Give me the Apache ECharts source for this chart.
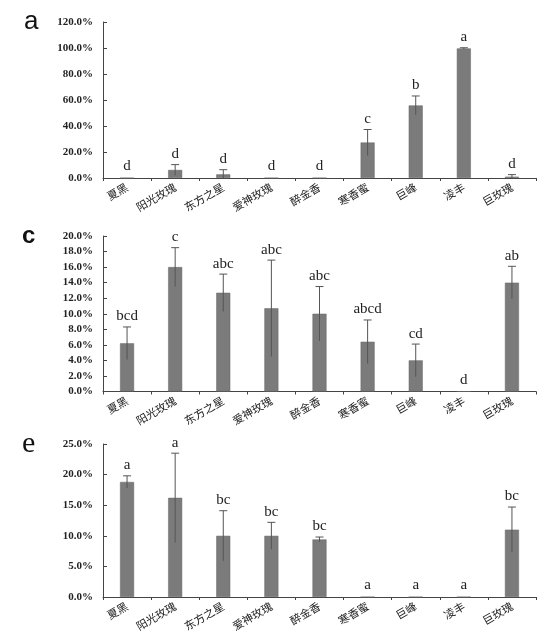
<!DOCTYPE html>
<html>
<head>
<meta charset="utf-8">
<script src="https://cdn.jsdelivr.net/npm/echarts@6/dist/echarts.min.js"></script>
<style>
html,body{margin:0;padding:0;background:#fff;}
#chart{width:550px;height:635px;}
</style>
</head>
<body>
<div id="chart"></div>
<script>
var categories = ['夏黑','阳光玫瑰','东方之星','爱神玫瑰','醉金香','寒香蜜','巨峰','凌丰','巨玫瑰'];

var aMean = [0, 6.2, 2.8, 0, 0, 27.3, 55.8, 99.7, 1.0];
var aErr  = [0, 4.1, 3.6, 0, 0, 10.0, 7.3, 0.5, 1.6];
var aSig  = ['d','d','d','d','d','c','b','a','d'];

var cMean = [6.2, 16.0, 12.7, 10.7, 10.0, 6.4, 4.0, 0, 14.0];
var cErr  = [2.1, 2.5, 2.4, 6.2, 3.5, 2.8, 2.1, 0, 2.1];
var cSig  = ['bcd','c','abc','abc','abc','abcd','cd','d','ab'];

var eMean = [18.8, 16.2, 10.0, 10.0, 9.4, 0, 0, 0, 11.0];
var eErr  = [1.0, 7.3, 4.1, 2.2, 0.4, 0, 0, 0, 3.7];
var eSig  = ['a','a','bc','bc','bc','a','a','a','bc'];

var panelLabels = ['a','c','e'];
var yMax = [120, 20, 25];
var yInterval = [20, 2, 5];

var panels = [
  {mean: aMean, err: aErr, sig: aSig},
  {mean: cMean, err: cErr, sig: cSig},
  {mean: eMean, err: eErr, sig: eSig}
];

var gridTops = [22, 236, 444];
var gridHeights = [156, 155.5, 153];

var chart = echarts.init(document.getElementById('chart'));

var grids = [], xAxes = [], yAxes = [], series = [];
panels.forEach(function (p, k) {
  grids.push({left: 103, right: 14, top: gridTops[k], height: gridHeights[k], containLabel: false});
  xAxes.push({
    type: 'category', gridIndex: k, data: categories,
    axisLine: {lineStyle: {color: '#444', width: 1}},
    axisTick: {show: true, inside: false, length: 3, alignWithLabel: false, lineStyle: {color: '#444'}},
    axisLabel: {rotate: 30, margin: 8, fontSize: 11, color: '#222', fontFamily: 'Noto Sans CJK SC', interval: 0}
  });
  yAxes.push({
    type: 'value', gridIndex: k, min: 0, max: yMax[k], interval: yInterval[k],
    splitLine: {show: false},
    axisLine: {show: true, lineStyle: {color: '#444', width: 1}},
    axisTick: {show: true, inside: true, length: 4, lineStyle: {color: '#444'}},
    axisLabel: {
      margin: 10, fontSize: 11, fontWeight: 'bold', color: '#222',
      fontFamily: 'Liberation Serif',
      formatter: function (v) { return v.toFixed(1) + '%'; }
    }
  });
  series.push({
    type: 'bar', xAxisIndex: k, yAxisIndex: k, barWidth: 14,
    data: p.mean,
    itemStyle: {color: '#7b7b7b', borderColor: '#666', borderWidth: 0.5},
    silent: true
  });
  var errData = p.mean.map(function (m, i) { return [i, m, p.err[i], p.sig[i]]; });
  series.push({
    type: 'custom', xAxisIndex: k, yAxisIndex: k,
    data: errData,
    dimensions: ['x', 'mean', 'err', 'sig'],
    encode: {x: 0, y: 1},
    z: 5,
    renderItem: function (params, api) {
      var i = api.value(0), m = api.value(1), e = api.value(2);
      var sig = errData[params.dataIndex][3];
      var top = api.coord([i, m + e]);
      var bot = api.coord([i, Math.max(0, m - e)]);
      var children = [];
      if (e > 0) {
        children.push({type: 'line', shape: {x1: top[0], y1: top[1], x2: bot[0], y2: bot[1]},
          style: {stroke: '#555', lineWidth: 1}});
        children.push({type: 'line', shape: {x1: top[0] - 4, y1: top[1], x2: top[0] + 4, y2: top[1]},
          style: {stroke: '#555', lineWidth: 1}});
      }
      children.push({type: 'text', x: top[0], y: top[1] - (e > 0 ? 3 : 4),
        style: {text: sig, fill: '#222', font: '15px "Liberation Serif"', align: 'center', verticalAlign: 'bottom'}});
      return {type: 'group', children: children};
    }
  });
});

chart.setOption({
  animation: false,
  backgroundColor: '#fff',
  grid: grids,
  xAxis: xAxes,
  yAxis: yAxes,
  series: series,
  graphic: [
    {type: 'text', left: 24, top: 9, style: {text: panelLabels[0], font: '26px "Liberation Sans"', fill: '#111'}},
    {type: 'text', left: 22, top: 224, style: {text: panelLabels[1], font: 'bold 24px "Liberation Sans"', fill: '#111'}},
    {type: 'text', left: 22, top: 429, style: {text: panelLabels[2], font: '30px "Liberation Serif"', fill: '#111'}}
  ]
});
</script>
</body>
</html>
